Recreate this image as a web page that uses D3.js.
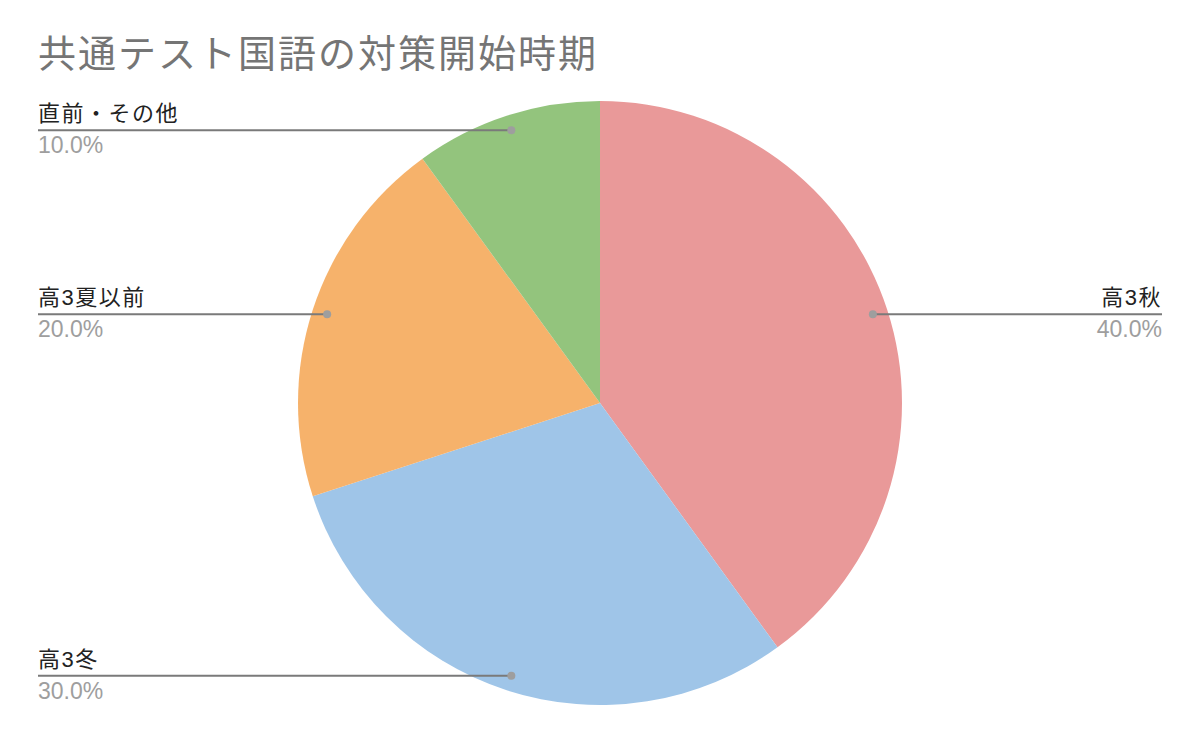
<!DOCTYPE html>
<meta charset="utf-8">
<script src="https://d3js.org/d3.v7.min.js"></script>
<style>
  body { margin: 0; background: #fff; }
  text { font-family: "Liberation Sans", "Noto Sans CJK JP", sans-serif; }
</style>
<div id="my_dataviz"></div>
<script>

// data
var categories = ["高3秋", "高3冬", "高3夏以前", "直前・その他"];
var values = [40, 30, 20, 10];
var colors = ["#E99999", "#9FC5E8", "#F6B26B", "#93C47D"];
var title = "共通テスト国語の対策開始時期";

var width = 1200, height = 742;
var cx = 600, cy = 403, radius = 302;

var svg = d3.select("#my_dataviz")
  .append("svg")
    .attr("width", width)
    .attr("height", height);

svg.append("text")
    .attr("x", 38)
    .attr("y", 67)
    .text(title)
    .style("font-size", "38px")
    .style("letter-spacing", "2px")
    .style("fill", "#757575");

var g = svg.append("g")
    .attr("transform", "translate(" + cx + "," + cy + ")");

var pie = d3.pie().sort(null).value(function(d) { return d; });
var arcs = pie(values);
var total = d3.sum(values);

var arc = d3.arc().innerRadius(0).outerRadius(radius);
var dotArc = d3.arc().innerRadius(radius * 0.95).outerRadius(radius * 0.95);

g.selectAll("path")
  .data(arcs)
  .enter()
  .append("path")
    .attr("d", arc)
    .style("fill", function(d, i) { return colors[i]; });

// label leaders: horizontal line from the dot out to the edge
var leftX = 38 - cx, rightX = 1162 - cx;

arcs.forEach(function(d, i) {
  var c = dotArc.centroid(d);
  var right = c[0] > 0;
  var endX = right ? rightX : leftX;
  var anchor = right ? "end" : "start";

  g.append("line")
      .attr("x1", c[0]).attr("x2", endX)
      .attr("y1", c[1]).attr("y2", c[1])
      .attr("stroke", "#7a7a7a")
      .attr("stroke-width", 2);
  g.append("circle")
      .attr("cx", c[0]).attr("cy", c[1]).attr("r", 4)
      .style("fill", "#9e9e9e");
  g.append("text")
      .attr("x", endX).attr("y", c[1] - 9)
      .text(categories[i])
      .style("font-size", "22px")
      .style("letter-spacing", "1.5px")
      .style("fill", "#222")
      .attr("text-anchor", anchor);
  g.append("text")
      .attr("x", endX).attr("y", c[1] + 23)
      .text((values[i] / total * 100).toFixed(1) + "%")
      .style("font-size", "23px")
      .style("fill", "#9e9e9e")
      .attr("text-anchor", anchor);
});

</script>
